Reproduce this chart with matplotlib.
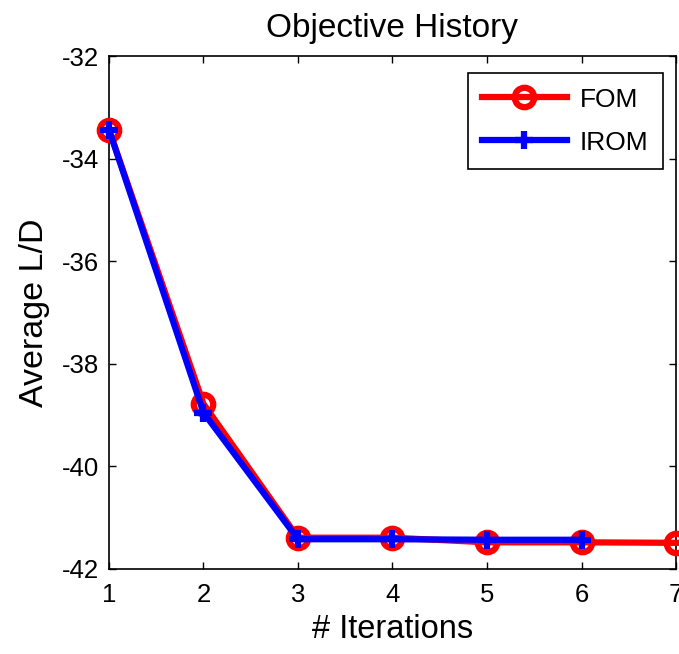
import matplotlib
matplotlib.use('Agg')
import matplotlib.pyplot as plt

# Objective history data
iterations_fom = [1, 2, 3, 4, 5, 6, 7]
fom = [-33.43, -38.78, -41.39, -41.39, -41.48, -41.48, -41.49]
iterations_irom = [1, 2, 3, 4, 5, 6]
irom = [-33.43, -38.95, -41.42, -41.42, -41.43, -41.43]

plt.rcParams['font.family'] = ['Liberation Sans', 'DejaVu Sans']
plt.rcParams['axes.unicode_minus'] = False

fig = plt.figure(figsize=(6.79, 6.54), dpi=100)
ax = fig.add_axes([0.1605, 0.130, 0.8351, 0.784])

ax.plot(iterations_fom, fom, color='red', lw=4.5, marker='o', markersize=14,
        markerfacecolor='none', markeredgewidth=4.5, label='FOM', clip_on=False, zorder=3)
ax.plot(iterations_irom, irom, color='blue', lw=4.5, marker='+', markersize=13,
        markeredgewidth=4.5, label='IROM', clip_on=False, zorder=4)

ax.set_xlim(1, 7)
ax.set_ylim(-42, -32)
ax.set_xticks([1, 2, 3, 4, 5, 6, 7])
ax.set_yticks([-42, -40, -38, -36, -34, -32])
ax.tick_params(direction='in', top=True, right=True, length=5, width=1, labelsize=18.5)
ax.tick_params(axis='x', pad=10)
ax.tick_params(axis='y', pad=7)
for s in ax.spines.values():
    s.set_linewidth(1.2)

ax.set_title('Objective History', fontsize=24, pad=14)
ax.set_xlabel('# Iterations', fontsize=23.5, labelpad=5)
ax.set_ylabel('Average L/D', fontsize=24.5, labelpad=9)

leg = ax.legend(loc='upper right', bbox_to_anchor=(0.977, 0.967), borderaxespad=0,
                fontsize=19, fancybox=False, edgecolor='black', framealpha=1,
                handlelength=3.2, borderpad=0.55, labelspacing=0.72, handletextpad=0.5)
leg.get_frame().set_linewidth(1.2)

fig.savefig('out.png', dpi=100)
